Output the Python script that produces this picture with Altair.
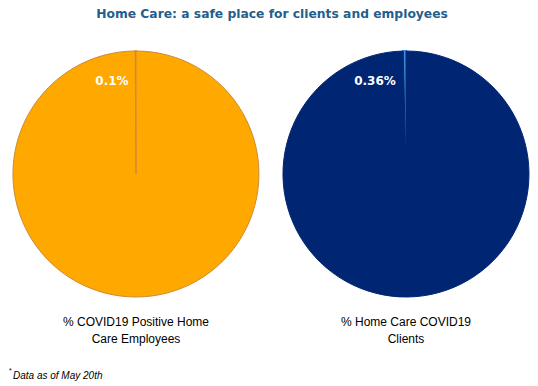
import altair as alt
import pandas as pd

# ---- data ----
title_text = "Home Care: a safe place for clients and employees"
pie_names = ["% COVID19 Positive Home Care Employees", "% Home Care COVID19 Clients"]
pie_label_lines = [["% COVID19 Positive Home", "Care Employees"], ["% Home Care COVID19", "Clients"]]
positive_pct = [0.1, 0.36]
pct_labels = ["0.1%", "0.36%"]
footnote = "Data as of May 20th"

# ---- styling ----
big_colors = ["#FFA800", "#002673"]
small_colors = ["#C97F2A", "#3C8FDA"]
stroke_big = ["#D08A33", "#002673"]
small_stroke_w = [1.6, 2.2]
label_dx = [-24, -31]
centers_x = [128, 398]
center_y = 166
radius = 123

layers = []
for i, (name, p) in enumerate(zip(pie_names, positive_pct)):
    df = pd.DataFrame({
        "part": [f"pos{i}", f"rest{i}"],
        "value": [p, 100 - p],
        "ord": [1, 0],
    })
    dom = [f"pos{i}", f"rest{i}"]
    pie = alt.Chart(df).mark_arc(radius=radius).encode(
        theta=alt.Theta("value:Q", stack=True),
        color=alt.Color("part:N",
                        scale=alt.Scale(domain=dom, range=[small_colors[i], big_colors[i]]),
                        legend=None),
        stroke=alt.Stroke("part:N",
                          scale=alt.Scale(domain=dom, range=[small_colors[i], stroke_big[i]]),
                          legend=None),
        strokeWidth=alt.StrokeWidth("part:N",
                                    scale=alt.Scale(domain=dom, range=[small_stroke_w[i], 1]),
                                    legend=None),
        order=alt.Order("ord:Q"),
        x=alt.value(centers_x[i]),
        y=alt.value(center_y),
    )
    layers.append(pie)

    lab = alt.Chart(pd.DataFrame({"t": [pct_labels[i]]})).mark_text(
        font="DejaVu Sans", fontWeight="bold", fontSize=12, color="white", align="center"
    ).encode(text="t:N", x=alt.value(centers_x[i] + label_dx[i]), y=alt.value(73))
    layers.append(lab)

    name_df = pd.DataFrame({"t": [pie_label_lines[i]]})
    nm = alt.Chart(name_df).mark_text(
        font="Liberation Sans", fontSize=12, color="black", align="center",
        baseline="top", lineHeight=17
    ).encode(text="t:N", x=alt.value(centers_x[i]), y=alt.value(309))
    layers.append(nm)

title = alt.Chart(pd.DataFrame({"t": [title_text]})).mark_text(
    font="DejaVu Sans", fontWeight="bold", fontSize=12.3, color="#1F5F8E", align="center",
    baseline="middle"
).encode(text="t:N", x=alt.value(264), y=alt.value(6))

star = alt.Chart(pd.DataFrame({"t": ["*"]})).mark_text(
    font="Liberation Sans", fontSize=7, color="black", align="left", baseline="middle"
).encode(text="t:N", x=alt.value(1), y=alt.value(363))

foot = alt.Chart(pd.DataFrame({"t": [footnote]})).mark_text(
    font="Liberation Sans", fontStyle="italic", fontSize=10, color="black", align="left",
    baseline="middle"
).encode(text="t:N", x=alt.value(5), y=alt.value(368))

chart = alt.layer(*layers, title, star, foot).resolve_scale(
    theta="independent", color="independent", stroke="independent",
    strokeWidth="independent"
).properties(
    width=522, height=376, padding=0, autosize=alt.AutoSizeParams(type="none")
).configure_view(stroke=None)

chart.save("out.html", embed_options={"renderer": "svg", "actions": False})
